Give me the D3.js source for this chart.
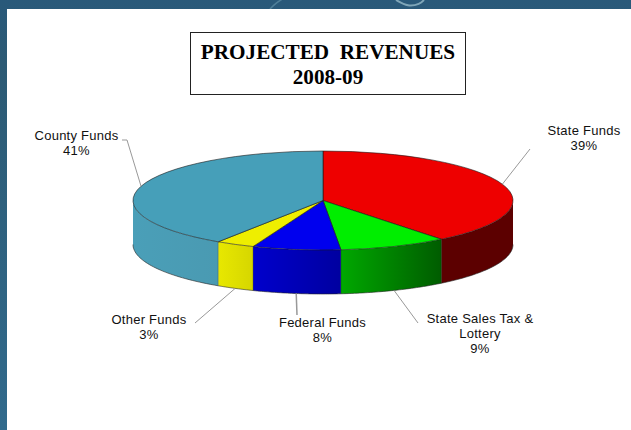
<!DOCTYPE html>
<html>
<head>
<meta charset="utf-8">
<script src="https://cdn.jsdelivr.net/npm/d3@7"></script>
<style>
html,body{margin:0;padding:0;background:#fff;overflow:hidden}
svg{display:block}
</style>
</head>
<body>
<svg id="chart" width="631" height="430"></svg>
<script>
// Data
const categories = ["State Funds", "State Sales Tax & Lottery", "Federal Funds", "Other Funds", "County Funds"];
const shownPercents = ["39%", "9%", "8%", "3%", "41%"];
const values = [39.3, 9.2, 7.5, 3.3, 40.7];
const titleLines = ["PROJECTED  REVENUES", "2008-09"];

// Styles
const topColors = ["#ee0000", "#00ee00", "#0000ee", "#eeee00", "#469fb9"];
const sideStart = ["#5c0000", "#00a800", "#0000cc", "#e8e800", "#4a9fb8"];
const sideEnd = ["#5c0000", "#005c00", "#0000a0", "#d6d600", "#4a9ab2"];
const labelLines = [["State Funds"], ["State Sales Tax &", "Lottery"], ["Federal Funds"], ["Other Funds"], ["County Funds"]];

// Layout
const W = 631, H = 430;
const cx = 323, cy = 200.5, rx = 190, ry = 49.5, depth = 44;
const labelAnchors = [
  {x: 584, y: 134.5, lx: 530, ly: 149},
  {x: 480, y: 323, lx: 418, ly: 323},
  {x: 322.5, y: 327, lx: 297, ly: 315},
  {x: 149, y: 324, lx: 195, ly: 323},
  {x: 76.5, y: 139.5, lx: 127, ly: 140, hook: 122}
];

const svg = d3.select("#chart");
const defs = svg.append("defs");

// Background frame
const bg = defs.append("linearGradient").attr("id", "bg").attr("x1", 0).attr("y1", 0).attr("x2", 0).attr("y2", 1);
bg.append("stop").attr("offset", 0).attr("stop-color", "#29597a");
bg.append("stop").attr("offset", 0.15).attr("stop-color", "#2c5a74");
bg.append("stop").attr("offset", 1).attr("stop-color", "#316a8c");
svg.append("rect").attr("width", W).attr("height", H).attr("fill", "url(#bg)");
const swoosh = d3.line().curve(d3.curveBasis);
svg.append("path").attr("d", swoosh([[270, 9], [276, 3], [284, -2]])).attr("fill", "none").attr("stroke", "#4f7f99").attr("stroke-width", 1.5);
svg.append("path").attr("d", swoosh([[396, 0], [408, 7], [420, 4], [424, 0]])).attr("fill", "none").attr("stroke", "#7fa6b8").attr("stroke-width", 2);
svg.append("rect").attr("x", 7).attr("y", 9).attr("width", W - 7).attr("height", H - 9).attr("fill", "#fff");

// Title box
svg.append("rect").attr("x", 190.5).attr("y", 32.5).attr("width", 275).attr("height", 62)
  .attr("fill", "#fff").attr("stroke", "#222").attr("stroke-width", 1);
svg.selectAll("text.title").data(titleLines).join("text")
  .attr("class", "title")
  .attr("x", 328)
  .attr("y", (d, i) => 59 + i * 25)
  .attr("text-anchor", "middle")
  .attr("font-family", "'Liberation Serif', serif")
  .attr("font-weight", "bold")
  .attr("font-size", 21.2)
  .attr("fill", "#000")
  .style("white-space", "pre")
  .text(d => d);

// Pie
const pie = d3.pie().sort(null).value(d => d)(values);
const pt = (a, dy = 0) => [cx + rx * Math.sin(a), cy - ry * Math.cos(a) + dy];
const arcGen = d3.arc().innerRadius(0).outerRadius(rx);

// Side walls: only the front half of the ellipse (angles PI/2 .. 3PI/2) is visible
const clampLo = Math.PI / 2, clampHi = 3 * Math.PI / 2;
const line = d3.line();
const sideG = svg.append("g");
pie.forEach((p, i) => {
  const a0 = Math.max(p.startAngle, clampLo), a1 = Math.min(p.endAngle, clampHi);
  if (a1 <= a0) return;
  const angles = d3.range(0, 41).map(k => a0 + (a1 - a0) * k / 40);
  const upper = angles.map(a => pt(a));
  const lower = angles.map(a => pt(a, depth)).reverse();
  const xs = upper.map(d => d[0]);
  const grad = defs.append("linearGradient").attr("id", "side" + i)
    .attr("gradientUnits", "userSpaceOnUse")
    .attr("x1", d3.min(xs)).attr("x2", d3.max(xs)).attr("y1", 0).attr("y2", 0);
  grad.append("stop").attr("offset", 0).attr("stop-color", sideStart[i]);
  grad.append("stop").attr("offset", 1).attr("stop-color", sideEnd[i]);
  sideG.append("path")
    .attr("d", line(upper.concat(lower)) + "Z")
    .attr("fill", "url(#side" + i + ")");
  sideG.append("path").attr("d", line(lower)).attr("fill", "none").attr("stroke", "#222").attr("stroke-width", 0.6);
  const seam = p.startAngle >= clampLo ? a0 : a1;
  sideG.append("path").attr("d", line([pt(seam), pt(seam, depth)])).attr("fill", "none")
    .attr("stroke", "#000").attr("stroke-opacity", 0.35).attr("stroke-width", 0.7);
});

// Top face, an ordinary d3 arc squashed vertically
svg.append("g")
  .attr("transform", `translate(${cx},${cy}) scale(1,${ry / rx})`)
  .selectAll("path").data(pie).join("path")
  .attr("d", arcGen)
  .attr("fill", (d, i) => topColors[i])
  .attr("stroke", "#1a1a1a")
  .attr("stroke-width", 0.6)
  .attr("vector-effect", "non-scaling-stroke");

// Leader lines start from each slice's middle angle
const leaderG = svg.append("g").attr("fill", "none").attr("stroke", "#999").attr("stroke-width", 1);
pie.forEach((p, i) => {
  const mid = (p.startAngle + p.endAngle) / 2;
  const front = Math.cos(mid) < 0;
  const s = pt(mid, front ? depth : 0);
  const a = labelAnchors[i];
  const pts = [s, [a.lx, a.ly]];
  if (a.hook !== undefined) pts.push([a.hook, a.ly]);
  leaderG.append("path").attr("d", line(pts)).attr("stroke-width", i === 2 ? 1.5 : 1);
});

// Labels
const labelG = svg.append("g")
  .attr("font-family", "'Liberation Sans', Arial, sans-serif")
  .attr("font-size", 13)
  .attr("letter-spacing", 0.25)
  .attr("fill", "#111")
  .attr("text-anchor", "middle");
categories.forEach((c, i) => {
  const lines = labelLines[i].concat(shownPercents[i]);
  const a = labelAnchors[i];
  lines.forEach((t, k) => {
    labelG.append("text").attr("x", a.x).attr("y", a.y + k * 15).text(t);
  });
});
</script>
</body>
</html>
